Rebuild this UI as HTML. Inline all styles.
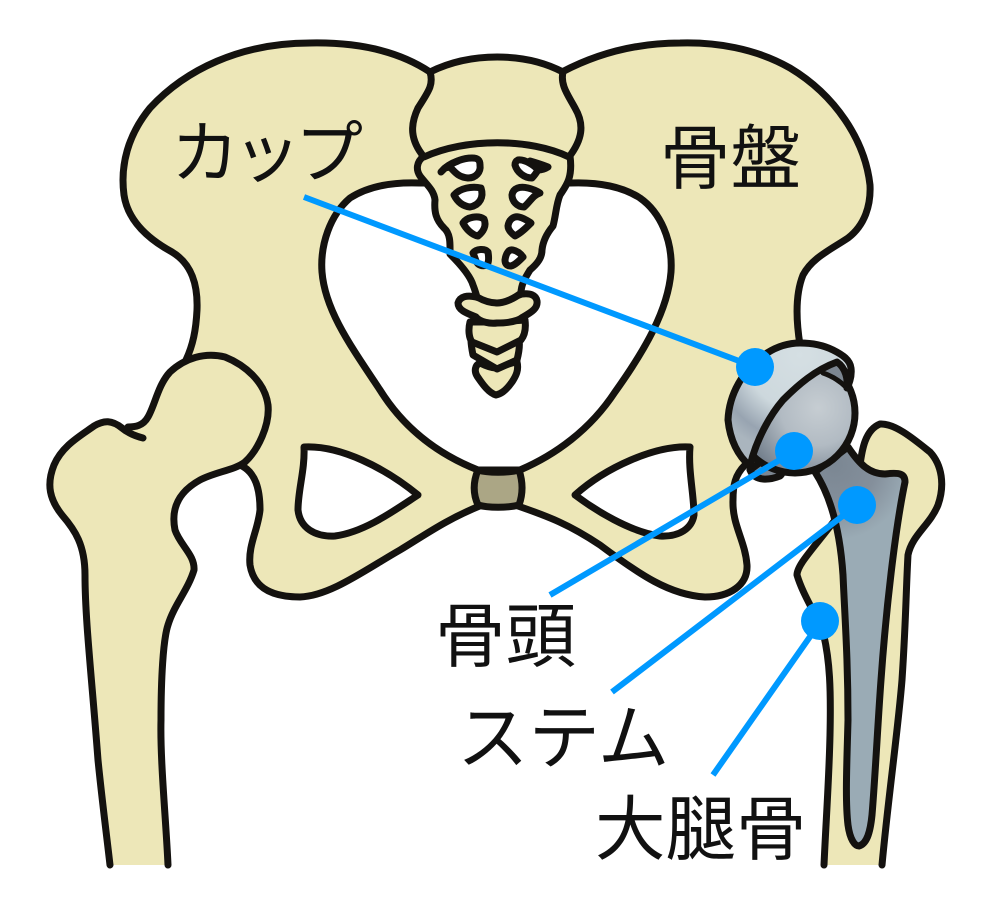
<!DOCTYPE html>
<html lang="ja"><head><meta charset="utf-8"><style>
html,body{margin:0;padding:0;background:#fff}
svg{display:block}
text{font-family:"Liberation Sans","Noto Sans CJK JP",sans-serif;font-size:70.5px;fill:#111}
.b{fill:#ede7b8;stroke:#14120f;stroke-width:7;stroke-linejoin:round;stroke-linecap:round}
.f{fill:#ede7b8;stroke:none}
.s{fill:none;stroke:#14120f;stroke-width:7;stroke-linejoin:round;stroke-linecap:round}
.w{fill:#fff;stroke:#14120f;stroke-width:7;stroke-linejoin:round;stroke-linecap:round}
.l{stroke:#0099ff;stroke-width:6;fill:none}
</style></head><body>
<svg width="1000" height="909" viewBox="0 0 1000 909" xmlns="http://www.w3.org/2000/svg">
<defs>
<radialGradient id="ball" gradientUnits="userSpaceOnUse" cx="818" cy="408" r="75"><stop offset="0" stop-color="#c6cdd2"/><stop offset=".5" stop-color="#b2bbc3"/><stop offset="1" stop-color="#75818e"/></radialGradient>
<radialGradient id="cup" gradientUnits="userSpaceOnUse" cx="800" cy="355" r="100"><stop offset="0" stop-color="#d5dfe3"/><stop offset=".55" stop-color="#cdd8dd"/><stop offset=".85" stop-color="#98a4b1"/><stop offset="1" stop-color="#aab5be"/></radialGradient>
<radialGradient id="stem" gradientUnits="userSpaceOnUse" cx="835" cy="465" r="75"><stop offset="0" stop-color="#7b8793"/><stop offset=".55" stop-color="#848f9b"/><stop offset="1" stop-color="#9aabb5"/></radialGradient>
</defs>

<!-- pelvis -->
<path class="b" d="M430 72 C400 52 360 42 310 43 C240 43 185 70 150 108 C128 135 120 165 124 195 C128 222 150 240 172 252 C192 264 198 285 197 310 C196 330 193 345 186 360 L240 465 C256 472 260 490 260 510 C258 530 248 545 250 565 C254 590 275 597 300 597 C330 596 365 570 400 550 C425 535 445 520 482 505 L515 505 C550 517 570 525 600 545 C640 575 670 595 705 597 C730 597 748 585 747 565 C745 540 732 525 733 500 C733 485 735 475 745 465 L800 345 C796 320 795 295 803 275 C812 258 830 250 848 238 C865 225 871 205 870 185 C865 140 835 95 790 68 C755 48 715 42 680 43 C640 43 600 52 562 72 Z"/>
<!-- basin -->
<path class="w" d="M420 183 C395 182 370 185 350 198 C330 215 320 245 322 272 C325 310 350 345 380 390 C405 430 440 455 478 470 L520 470 C555 455 590 430 615 392 C645 350 668 310 671 272 C673 240 660 212 640 198 C620 185 595 182 570 183 Z"/>
<!-- obturator holes -->
<path class="w" d="M304 447 C340 445 385 468 418 495 C395 510 365 532 335 536 C315 537 300 528 298 510 C298 490 305 470 304 447 Z"/>
<path class="w" d="M690 447 C655 445 605 468 575 495 C595 510 630 532 660 536 C680 537 692 528 694 515 C694 495 688 470 690 447 Z"/>
<!-- symphysis -->
<path d="M478 470 C488 473 508 473 519 470 C523 482 523 494 519 505 C508 508 488 508 478 505 C473 494 473 482 478 470 Z" fill="#aba685" stroke="#14120f" stroke-width="7" stroke-linejoin="round"/>

<!-- coccyx -->
<path class="b" d="M480 363 C488 367 492 368 496 368 C505 366 512 362 517 362 C519 370 516 376 512 382 C505 392 500 394 496 395 C489 393 483 385 477 376 C474 371 475 365 480 363 Z"/>
<path class="b" d="M471 340 L497 350 L519 340 C520 345 519 352 517 360 L497 369 L473 355 C472 350 471 345 471 340 Z"/>
<path class="b" d="M470 322 C468 330 469 338 472 342 L497 352 L521 340 C525 335 526 328 525 320 L497 322 Z"/>
<path class="b" d="M476 297 C468 295 460 296 458 303 C458 310 466 313 476 317 C480 322 490 324 497 323 C507 323 517 322 523 317 C532 312 538 308 537 301 C536 295 530 293 522 294 L497 303 Z"/>
<!-- sacrum -->
<path class="b" d="M424 156 C416 162 416 170 420 176 C426 184 434 190 435 200 C434 212 436 220 444 228 C451 234 450 245 450 254 C458 262 470 275 473 285 C475 290 476 294 477 297 C484 301 490 303 497 303 C505 303 515 298 521 293 C521 285 525 278 530 270 C537 264 542 258 542 250 C543 240 548 232 553 226 C556 215 556 205 560 195 C566 186 573 178 570 156 C530 138 465 138 424 156 Z"/>
<!-- L5 -->
<path class="b" d="M430 72 C470 52 525 52 563 72 C560 85 568 95 575 108 C585 125 582 140 569 157 C530 138 465 138 424 157 C410 140 410 125 418 108 C428 92 434 85 430 72 Z"/>
<!-- foramina -->
<path class="w" d="M450 167 C455 172 458 177 468 178 C476 178 481 172 480 165 C480 160 478 158 472 158 C462 158 452 163 445 168 L450 167 Z"/>
<path class="s" d="M441 172 C446 166 452 163 458 161"/>
<path class="w" d="M515 165 C517 172 524 178 532 178 C535 175 538 170 538 170 C535 166 525 159 518 160 C516 161 515 163 515 165 Z"/>
<path class="s" d="M530 161 C537 163 543 165 548 167 M538 170 C541 170 545 169 548 167"/>
<path class="w" d="M454 195 C460 188 472 186 481 188 C484 197 480 205 470 207 C462 206 457 201 454 195 Z"/>
<path class="w" d="M512 195 C513 188 520 186 528 188 C532 189 537 191 540 193 C533 195 530 202 524 207 C517 207 512 201 512 195 Z"/>
<path class="w" d="M463 223 C467 217 478 215 484 219 C487 226 483 232 478 236 C472 235 466 229 463 223 Z"/>
<path class="w" d="M508 226 C509 219 514 216 519 217 C524 218 528 221 531 223 C526 228 521 233 515 236 C511 233 508 230 508 226 Z"/>
<path class="w" d="M473 253 C476 249 485 248 488 252 C489 258 489 262 487 265 C482 267 478 265 476 261 C475 258 474 255 473 253 Z"/>
<path class="w" d="M505 260 C506 253 509 249 513 250 C518 251 521 254 523 257 C519 261 515 265 511 266 C507 266 505 264 505 260 Z"/>

<!-- left femur -->
<path class="f" d="M143 438 C135 436 128 433 122 428 C112 420 104 420 94 426 C80 436 62 446 54 465 C46 485 50 500 62 515 C75 530 85 545 85 575 C85 620 92 680 98 760 C102 800 106 830 110 865 L168 865 C166 820 160 760 161 720 C161 680 163 640 168 625 C174 605 188 590 194 570 C195 555 180 545 175 530 C170 505 182 490 200 480 C215 472 235 470 245 462 C258 450 270 425 268 405 C265 382 245 365 225 357 C205 352 185 358 170 372 C158 385 155 405 148 417 C143 426 135 427 128 427"/>
<path class="s" d="M143 438 C135 436 128 433 122 428 C112 420 104 420 94 426 C80 436 62 446 54 465 C46 485 50 500 62 515 C75 530 85 545 85 575 C85 620 92 680 98 760 C102 800 106 830 110 865"/>
<path class="s" d="M168 865 C166 820 160 760 161 720 C161 680 163 640 168 625 C174 605 188 590 194 570 C195 555 180 545 175 530 C170 505 182 490 200 480 C215 472 235 470 245 462 C258 450 270 425 268 405 C265 382 245 365 225 357 C205 352 185 358 170 372 C158 385 155 405 148 417 C143 426 135 427 128 427"/>

<!-- right femur -->
<path class="f" d="M824 865 C826 820 829 780 830 735 C831 690 830 660 823 632 C815 612 803 595 797 575 C797 565 812 550 835 520 L860 465 C862 450 865 430 880 424 C895 423 915 440 930 452 C942 465 945 485 938 505 C930 525 912 535 908 555 C906 590 906 620 902 680 C898 730 888 800 882 865 Z"/>
<path class="s" d="M824 865 C826 820 829 780 830 735 C831 690 830 660 823 632 C815 612 803 595 797 575 C797 565 812 550 835 520 L860 465 C862 450 865 430 880 424 C895 423 915 440 930 452 C942 465 945 485 938 505 C930 525 912 535 908 555 C906 590 906 620 902 680 C898 730 888 800 882 865"/>
<!-- stem -->
<path d="M815 472 C830 495 840 530 843 575 C845 620 848 660 848 720 C847 760 845 800 848 825 C850 840 855 846 859 846 C866 844 870 835 872 815 C875 780 878 720 881 680 C886 610 895 530 905 482 C905 474 900 472 885 474 C870 474 860 465 848 447 Z" fill="url(#stem)" stroke="#14120f" stroke-width="7" stroke-linejoin="round"/>

<!-- lower cup inner -->
<path d="M750 470 C755 482 770 480 780 476 C785 472 780 465 770 455 Z" fill="#7d8791" stroke="#14120f" stroke-width="7" stroke-linejoin="round"/>
<!-- ball -->
<circle cx="795" cy="413" r="60" fill="url(#ball)" stroke="#14120f" stroke-width="7"/>
<!-- upper cup inner sector -->
<path d="M817 372 L837 362 L850 372 L847 388 C840 382 830 376 817 372 Z" fill="#7d8791" stroke="none"/>
<path class="s" d="M823 373 C832 376 840 381 847 388" style="stroke-width:5"/>
<!-- cup -->
<path d="M750 466 C738 456 730 440 728 420 C729 395 742 370 767 353 C778 346 790 343 800 343 C815 343 825 346 833 350 C843 355 850 360 851 368 C852 376 850 382 847 388 C848 380 846 368 837 362 C815 370 798 385 783 400 C770 415 756 440 750 466 Z" fill="url(#cup)" stroke="#14120f" stroke-width="7" stroke-linejoin="round"/>

<!-- leader lines -->
<path class="l" d="M304 197 L755 367 M550 595 L795 451 M612 692 L857 505 M713 775 L821 621"/>
<circle cx="755" cy="367" r="19" fill="#0099ff"/>
<circle cx="794" cy="451" r="19" fill="#0099ff"/>
<circle cx="857" cy="505" r="19" fill="#0099ff"/>
<circle cx="820" cy="621" r="19" fill="#0099ff"/>

<!-- labels -->
<text x="171" y="177" style="font-size:68px;letter-spacing:-6px">カップ</text>
<text x="660" y="183">骨盤</text>
<text x="435" y="661">骨頭</text>
<text x="457" y="763" style="font-size:71.5px">ステム</text>
<text x="595" y="854">大腿骨</text>
</svg>
</body></html>
